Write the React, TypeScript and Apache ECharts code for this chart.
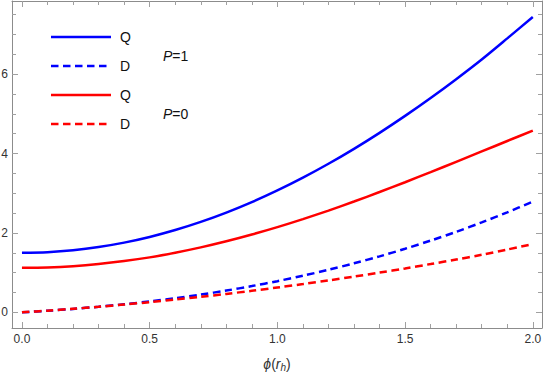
import React, { useEffect, useRef } from "react";
import * as echarts from "echarts";

// Sample positions along phi(r_h)
const xs = [0, 0.1, 0.2, 0.3, 0.4, 0.5, 0.6, 0.7, 0.8, 0.9, 1.0, 1.1, 1.2, 1.3, 1.4, 1.5, 1.6, 1.7, 1.8, 1.9, 2.0];

// P = 1 (blue)
const qP1 = [1.5, 1.516, 1.564, 1.644, 1.755, 1.898, 2.072, 2.277, 2.512, 2.776, 3.07, 3.392, 3.742, 4.118, 4.521, 4.948, 5.399, 5.873, 6.369, 6.9, 7.44];
const dP1 = [0, 0.039, 0.086, 0.14, 0.203, 0.274, 0.355, 0.446, 0.548, 0.661, 0.785, 0.922, 1.071, 1.234, 1.41, 1.601, 1.807, 2.028, 2.265, 2.519, 2.79];

// P = 0 (red)
const qP0 = [1.12, 1.131, 1.163, 1.217, 1.291, 1.384, 1.502, 1.636, 1.789, 1.96, 2.146, 2.348, 2.563, 2.791, 3.03, 3.277, 3.531, 3.79, 4.052, 4.315, 4.576];
const dP0 = [0, 0.042, 0.089, 0.14, 0.196, 0.256, 0.321, 0.39, 0.464, 0.542, 0.625, 0.712, 0.804, 0.9, 1.001, 1.106, 1.216, 1.33, 1.449, 1.582, 1.72];

// Tick positions / labels
const xMajor = [0, 0.5, 1.0, 1.5, 2.0];
const xMinor = [0.1, 0.2, 0.3, 0.4, 0.6, 0.7, 0.8, 0.9, 1.1, 1.2, 1.3, 1.4, 1.6, 1.7, 1.8, 1.9];
const yMajor = [0, 2, 4, 6];
const yMinor = [0.5, 1, 1.5, 2.5, 3, 3.5, 4.5, 5, 5.5, 6.5, 7, 7.5];

const X_MIN = -0.039;
const X_MAX = 2.036;
const Y_MIN = -0.395;
const Y_MAX = 7.842;

const FONT = "'Liberation Sans', Arial, sans-serif";
const FRAME = "#8c8c8c";
const TICK = "#a0a0a0";
const BLUE = "#0000ff";
const RED = "#ff0000";
const DASH = [7.5, 4.5];

const pairs = (ys: number[]) => xs.map((x, i) => [x, ys[i]]);

function xAxisDef(position: "bottom" | "top", values: number[], len: number, frame: boolean, labels: boolean, extra: any = {}) {
  return {
    type: "value",
    min: X_MIN,
    max: X_MAX,
    position,
    axisLine: { show: frame, onZero: false, lineStyle: { color: FRAME, width: 1 } },
    axisTick: { show: true, inside: true, length: len, customValues: values, lineStyle: { color: TICK, width: 1 } },
    axisLabel: labels
      ? { show: true, customValues: values, formatter: (v: number) => v.toFixed(1), color: "#333", fontSize: 12, fontFamily: FONT, margin: 5 }
      : { show: false },
    splitLine: { show: false },
    ...extra,
  };
}

function yAxisDef(position: "left" | "right", values: number[], len: number, frame: boolean, labels: boolean) {
  return {
    type: "value",
    min: Y_MIN,
    max: Y_MAX,
    position,
    axisLine: { show: frame, onZero: false, lineStyle: { color: FRAME, width: 1 } },
    axisTick: { show: true, inside: true, length: len, customValues: values, lineStyle: { color: TICK, width: 1 } },
    axisLabel: labels
      ? { show: true, customValues: values, formatter: (v: number) => String(v), color: "#333", fontSize: 12, fontFamily: FONT, margin: 4 }
      : { show: false },
    splitLine: { show: false },
  };
}

const legendRows = [
  { y: 37, color: BLUE, dashed: false, label: "Q" },
  { y: 66, color: BLUE, dashed: true, label: "D" },
  { y: 95, color: RED, dashed: false, label: "Q" },
  { y: 124, color: RED, dashed: true, label: "D" },
];

export default function App() {
  const ref = useRef<HTMLDivElement>(null);

  useEffect(() => {
    document.body.style.margin = "0";
    const chart = echarts.init(ref.current!, null, { renderer: "svg" });

    const graphic: any[] = [];
    legendRows.forEach((r) => {
      graphic.push({
        type: "line",
        shape: { x1: 51, y1: r.y, x2: 111, y2: r.y },
        style: { stroke: r.color, lineWidth: 2.5, lineDash: r.dashed ? DASH : null },
        silent: true,
      });
      graphic.push({
        type: "text",
        x: 120,
        y: r.y,
        style: { text: r.label, fontSize: 14, fontFamily: FONT, fill: "#111", verticalAlign: "middle", align: "left" },
        silent: true,
      });
    });
    graphic.push({
      type: "text",
      x: 163,
      y: 56,
      style: {
        text: "{i|P}=1",
        fontSize: 14,
        fontFamily: FONT,
        fill: "#111",
        verticalAlign: "middle",
        rich: { i: { fontStyle: "italic", fontSize: 14, fontFamily: FONT, fill: "#111" } },
      },
      silent: true,
    });
    graphic.push({
      type: "text",
      x: 163,
      y: 114,
      style: {
        text: "{i|P}=0",
        fontSize: 14,
        fontFamily: FONT,
        fill: "#111",
        verticalAlign: "middle",
        rich: { i: { fontStyle: "italic", fontSize: 14, fontFamily: FONT, fill: "#111" } },
      },
      silent: true,
    });

    const lineSeries = (name: string, ys: number[], color: string, dashed: boolean) => ({
      name,
      type: "line",
      data: pairs(ys),
      xAxisIndex: 0,
      yAxisIndex: 0,
      showSymbol: false,
      smooth: 0.3,
      lineStyle: { color, width: 2.5, type: dashed ? DASH : "solid" },
      itemStyle: { color },
      silent: true,
    });

    chart.setOption({
      animation: false,
      backgroundColor: "#ffffff",
      grid: { left: 12, right: 3, top: 1, bottom: 44, containLabel: false, outerBoundsMode: "none" },
      xAxis: [
        xAxisDef("bottom", xMajor, 6, true, true, {
          name: "{i|ϕ}{n|(}{i|r}{s|h}{n|)}",
          nameLocation: "middle",
          nameGap: 28,
          nameTextStyle: {
            color: "#333",
            fontFamily: FONT,
            fontSize: 14,
            rich: {
              i: { fontStyle: "italic", fontSize: 14, fontFamily: FONT, color: "#333" },
              n: { fontSize: 14, fontFamily: FONT, color: "#333" },
              s: { fontStyle: "italic", fontSize: 10, fontFamily: FONT, color: "#333", verticalAlign: "bottom", padding: [6, 0, 0, 0] },
            },
          },
        }),
        xAxisDef("bottom", xMinor, 4, false, false),
        xAxisDef("top", xMajor, 6, true, false),
        xAxisDef("top", xMinor, 4, false, false),
      ],
      yAxis: [
        yAxisDef("left", yMajor, 6, true, true),
        yAxisDef("left", yMinor, 4, false, false),
        yAxisDef("right", yMajor, 6, true, false),
        yAxisDef("right", yMinor, 4, false, false),
      ],
      series: [
        lineSeries("Q P=1", qP1, BLUE, false),
        lineSeries("D P=1", dP1, BLUE, true),
        lineSeries("Q P=0", qP0, RED, false),
        lineSeries("D P=0", dP0, RED, true),
      ],
      graphic,
    });

    return () => chart.dispose();
  }, []);

  return <div ref={ref} style={{ position: "absolute", left: 0, top: 0, width: 545, height: 372 }} />;
}
